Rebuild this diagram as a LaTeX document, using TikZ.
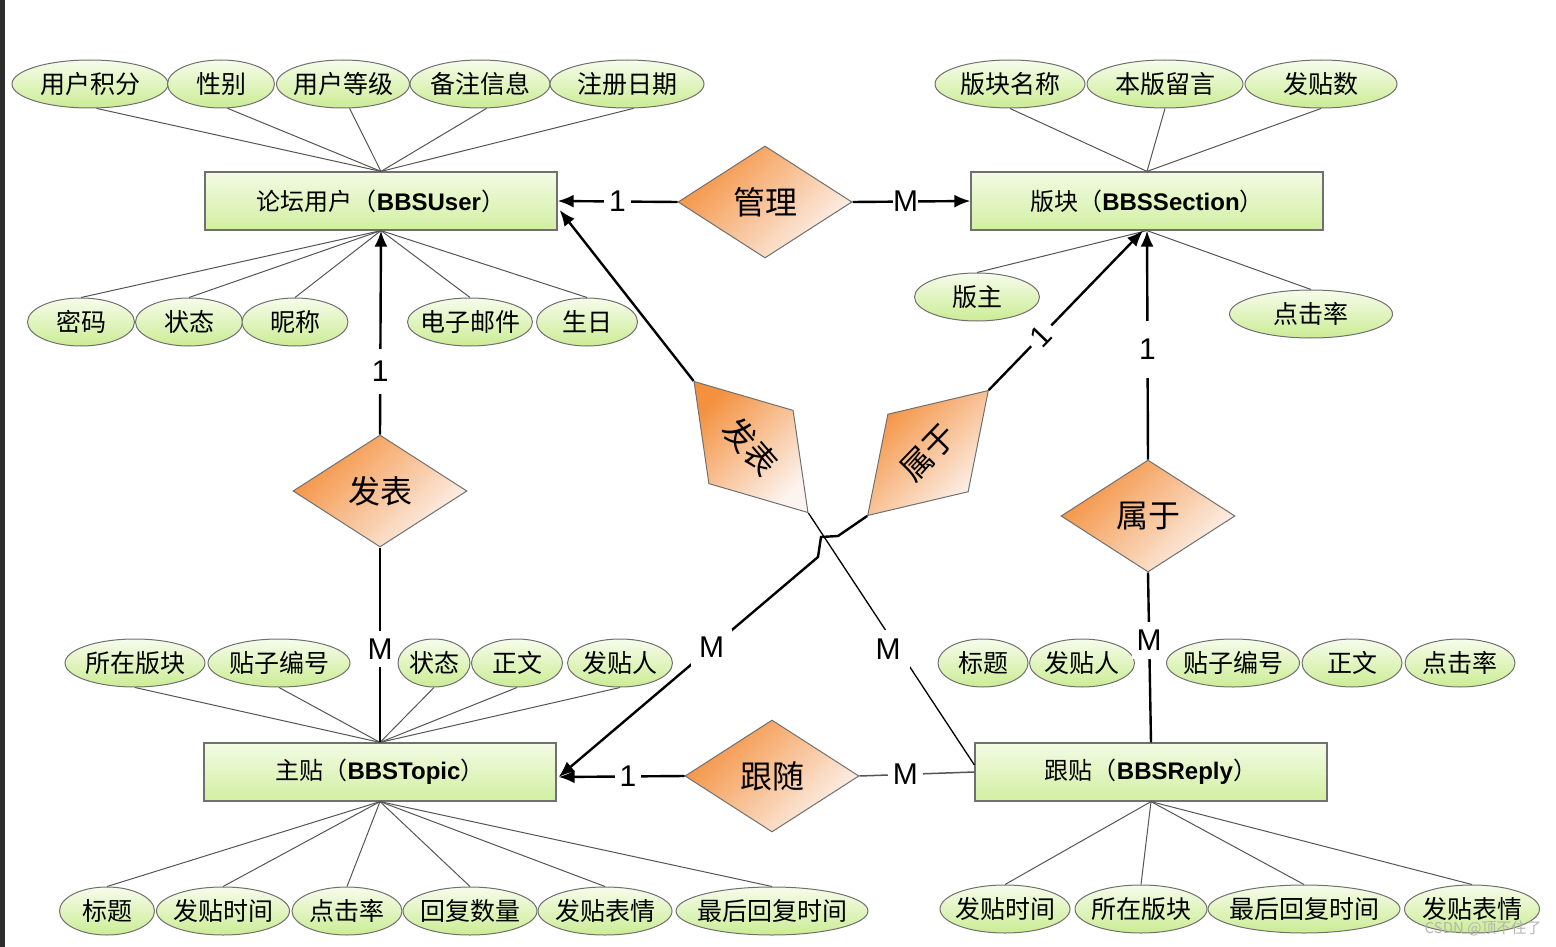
\documentclass[tikz,border=0pt]{standalone}
\usepackage{fontspec}
\setmainfont{Liberation Sans}
\newfontfamily\cjk{Noto Sans CJK SC}
\usepackage{tikz}
\usetikzlibrary{arrows.meta,shapes.geometric,calc}
\definecolor{attrtop}{HTML}{F6FCEB}
\definecolor{attrbot}{HTML}{CBEC94}
\definecolor{enttop}{HTML}{F3FBE4}
\definecolor{entbot}{HTML}{D2EFA2}
\definecolor{relorange}{HTML}{F4913F}
\definecolor{relpale}{HTML}{FCF4F0}
\definecolor{edgegray}{HTML}{707070}
\definecolor{wiregray}{HTML}{555555}
\definecolor{edgedark}{HTML}{2E2E2E}
\definecolor{wmgray}{HTML}{B4B4B4}
\newcommand{\entlabel}[2]{{\cjk #1（}\textbf{#2}{\cjk ）}}

\begin{document}
\begin{tikzpicture}[x=1pt,y=-1pt,
attr/.style={ellipse,draw=edgegray,line width=1pt,top color=attrtop,bottom color=attrbot,minimum height=48pt,inner sep=-8pt,font=\cjk\fontsize{25}{28}\selectfont},
ent/.style={draw=edgegray,line width=1.2pt,top color=enttop,bottom color=entbot,minimum width=352pt,minimum height=58pt,font=\fontsize{24}{28}\selectfont},
rel/.style={diamond,draw=edgegray,line width=1pt,left color=relorange,right color=relpale,shading angle=45,minimum width=174pt,minimum height=112pt,inner sep=0pt,font=\cjk\fontsize{32}{34}\selectfont},
card/.style={fill=white,inner sep=5pt,font=\fontsize{30}{32}\selectfont},
wire/.style={draw=wiregray,line width=1pt},
link/.style={line width=2.4pt},
arr/.style={link,-{Latex[length=16pt,width=13pt]}}
]
\useasboundingbox (0,0) rectangle (1556,947);
\fill[edgedark] (0,0) rectangle (5,947);

\node[ent] (user) at (381,201) {\entlabel{论坛用户}{BBSUser}};
\node[ent] (section) at (1147,201) {\entlabel{版块}{BBSSection}};
\node[ent] (topic) at (380,772) {\entlabel{主贴}{BBSTopic}};
\node[ent] (reply) at (1151,772) {\entlabel{跟贴}{BBSReply}};

\node[rel] (manage) at (765,202) {管理};
\node[rel] (postL) at (380,491) {发表};
\node[rel] (follow) at (772,776) {跟随};
\node[rel] (belongR) at (1148,516) {属于};
\node[rel,rotate=-49] (postM) at (751,447) {发表};
\node[rel,rotate=46] (belongM) at (928,453) {属于};

\node[attr,minimum width=156pt] (ua1) at (90,84) {用户积分};
\node[attr,minimum width=107pt] (ua2) at (221,84) {性别};
\node[attr,minimum width=133pt] (ua3) at (343,84) {用户等级};
\node[attr,minimum width=140pt] (ua4) at (480,84) {备注信息};
\node[attr,minimum width=154pt] (ua5) at (627,84) {注册日期};
\node[attr,minimum width=107pt] (ub1) at (81,322) {密码};
\node[attr,minimum width=107pt] (ub2) at (189,322) {状态};
\node[attr,minimum width=106pt] (ub3) at (295,322) {昵称};
\node[attr,minimum width=125pt] (ub4) at (470,322) {电子邮件};
\node[attr,minimum width=101pt] (ub5) at (587,322) {生日};

\node[attr,minimum width=150pt] (sa1) at (1010,84) {版块名称};
\node[attr,minimum width=156pt] (sa2) at (1165,84) {本版留言};
\node[attr,minimum width=152pt] (sa3) at (1321,84) {发贴数};
\node[attr,minimum width=125pt] (sb1) at (977,297) {版主};
\node[attr,minimum width=163pt] (sb2) at (1311,314) {点击率};

\node[attr,minimum width=140pt] (ta1) at (135,663) {所在版块};
\node[attr,minimum width=142pt] (ta2) at (279,663) {贴子编号};
\node[attr,minimum width=72pt] (ta3) at (434,663) {状态};
\node[attr,minimum width=91pt] (ta4) at (517,663) {正文};
\node[attr,minimum width=105pt] (ta5) at (620,663) {发贴人};
\node[attr,minimum width=95pt] (tb1) at (107,911) {标题};
\node[attr,minimum width=133pt] (tb2) at (223,911) {发贴时间};
\node[attr,minimum width=110pt] (tb3) at (347,911) {点击率};
\node[attr,minimum width=134pt] (tb4) at (470,911) {回复数量};
\node[attr,minimum width=134pt] (tb5) at (605,911) {发贴表情};
\node[attr,minimum width=192pt] (tb6) at (772,911) {最后回复时间};

\node[attr,minimum width=90pt] (ra1) at (983,663) {标题};
\node[attr,minimum width=105pt] (ra2) at (1082,663) {发贴人};
\node[attr,minimum width=133pt] (ra3) at (1233,663) {贴子编号};
\node[attr,minimum width=100pt] (ra4) at (1352,663) {正文};
\node[attr,minimum width=110pt] (ra5) at (1460,663) {点击率};
\node[attr,minimum width=130pt] (rb1) at (1005,909) {发贴时间};
\node[attr,minimum width=132pt] (rb2) at (1141,909) {所在版块};
\node[attr,minimum width=192pt] (rb3) at (1304,909) {最后回复时间};
\node[attr,minimum width=135pt] (rb4) at (1472,909) {发贴表情};

\foreach \a in {ua1,ua2,ua3,ua4,ua5} \draw[wire] (\a.-75) -- (user.north);
\foreach \a in {ub1,ub2,ub3,ub4,ub5} \draw[wire] (\a.north) -- (user.south);
\foreach \a in {sa1,sa2,sa3} \draw[wire] (\a.south) -- (section.north);
\foreach \a in {sb1,sb2} \draw[wire] (\a.north) -- (section.south);
\foreach \a in {ta1,ta2,ta3,ta4,ta5} \draw[wire] (\a.south) -- (topic.north);
\foreach \a in {tb1,tb2,tb3,tb4,tb5,tb6} \draw[wire] (\a.north) -- (topic.south);
\foreach \a in {rb1,rb2,rb3,rb4} \draw[wire] (\a.north) -- (reply.south);

\draw[arr] (manage.west) -- node[card,pos=0.5]{1} (user.east);
\draw[arr] (manage.east) -- node[card,pos=0.45,inner sep=0pt]{M} (section.west);
\draw[arr] (postL.north) -- node[card,pos=0.31,inner ysep=12pt]{1} (user.south);
\draw[link] (postL.south) -- node[card,pos=0.52,inner ysep=8pt]{M} (topic.north);
\draw[arr] (follow.west) -- node[card,pos=0.45]{1} ($(topic.east)+(2,5)$);
\draw[wire,line width=1.5pt] (follow.east) -- node[card,pos=0.4]{M} (reply.west);
\draw[arr] (belongR.north) -- node[card,pos=0.48,inner ysep=18pt]{1} (section.south);
\draw[link] (belongR.south) -- node[card,pos=0.4,inner ysep=8pt]{M} (reply.north);
\draw[arr] (postM.west) -- ($(user.east)+(2,9)$);
\draw[line width=1.3pt] (postM.east) -- node[card,pos=0.54,xshift=-10pt,inner sep=9pt]{M} ($(reply.west)+(0,-7)$);
\draw[arr] (belongM.east) -- node[card,pos=0.34,sloped,inner sep=6pt]{1} ($(section.south)+(-4,0)$);
\draw[arr] (belongM.west) -- (838,536) -- (821,537) -- (818,557) -- node[card,pos=0.41,inner sep=8pt]{M} ($(topic.east)+(2,5)$);

\node[anchor=east,text=wmgray,font=\cjk\fontsize{15}{16}\selectfont] (wm) at (1545,928) {CSDN @顶不住了};
\end{tikzpicture}
\end{document}
